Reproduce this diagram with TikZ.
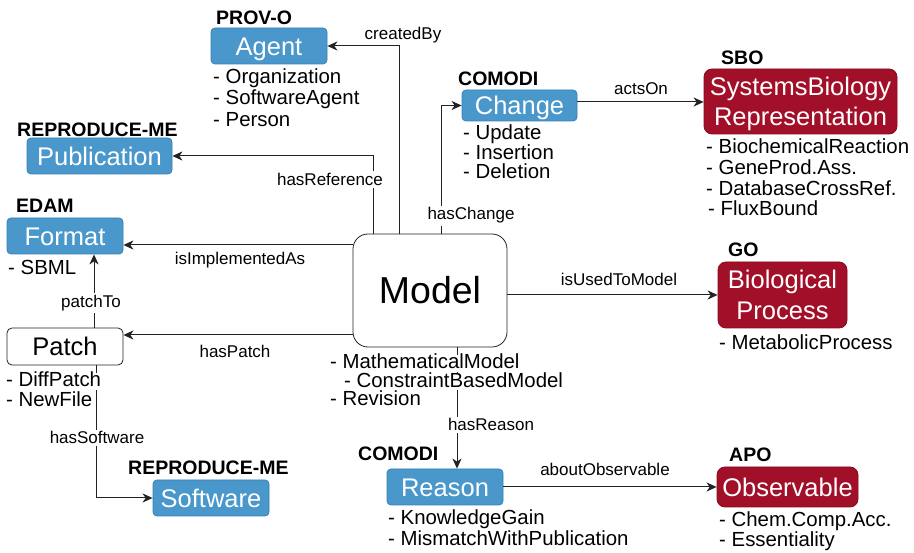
\documentclass[tikz,border=0pt]{standalone}
\usepackage{fontspec}
\setmainfont{Liberation Sans}
\usetikzlibrary{arrows.meta}
\definecolor{bluefill}{RGB}{74,152,203}
\definecolor{bluedraw}{RGB}{55,128,182}
\definecolor{redfill}{RGB}{162,15,40}
\definecolor{reddraw}{RGB}{135,10,30}
\definecolor{linecol}{RGB}{34,34,34}
\newcommand\boxfnt{\fontsize{25.5}{30.5}\selectfont}
\newcommand\modelfnt{\fontsize{37.5}{42}\selectfont}
\newcommand\itemfnt{\fontsize{20.4}{24}\selectfont}
\newcommand\ontofnt{\fontsize{19.5}{23}\selectfont\bfseries}
\newcommand\relfnt{\fontsize{17}{20}\selectfont}
\tikzset{
  basebox/.style={inner sep=0pt, line width=0.8pt, font=\boxfnt},
  bluebox/.style={basebox, draw=bluedraw, fill=bluefill, text=white, rounded corners=4pt, text height=18.3pt, text depth=0pt},
  redbox/.style={basebox, draw=reddraw, fill=redfill, text=white, rounded corners=8pt},
  redone/.style={redbox, text height=18.3pt, text depth=0pt},
  redtwo/.style={redbox, align=center, text depth=0pt},
  patchbox/.style={basebox, draw=linecol, fill=white, text=black, rounded corners=5pt, text height=18.3pt, text depth=0pt},
  modelbox/.style={inner sep=0pt, line width=0.8pt, draw=linecol, fill=white, rounded corners=15pt, font=\modelfnt, text height=26.9pt, text depth=0pt},
  onto/.style={font=\ontofnt, anchor=base west, inner sep=0pt},
  itm/.style={font=\itemfnt, anchor=base west, inner xsep=0pt, inner ysep=0pt, fill=white, text height=14pt, text depth=3pt},
  rel/.style={font=\relfnt, anchor=base, inner sep=0pt},
  relw/.style={rel, fill=white, inner xsep=1pt, inner ysep=2pt},
  conn/.style={draw=linecol, line width=1pt, -{Stealth[length=10pt,width=9pt,inset=3pt]}},
}
\begin{document}
\begin{tikzpicture}[x=1pt, y=-1pt]
\useasboundingbox (0,0) rectangle (914,553);
% boxes
\node[bluebox, minimum width=116pt, minimum height=36pt] (agent) at (269,46) {Agent};
\node[bluebox, minimum width=145pt, minimum height=36pt] (pub) at (99.5,156) {Publication};
\node[bluebox, minimum width=116pt, minimum height=36pt] (format) at (65,236) {Format};
\node[patchbox, minimum width=116pt, minimum height=37pt] (patch) at (65,346.5) {Patch};
\node[bluebox, minimum width=116pt, minimum height=36pt] (software) at (211,498) {Software};
\node[modelbox, minimum width=154pt, minimum height=113pt] (model) at (430,290.5) {Model};
\node[bluebox, minimum width=115pt, minimum height=31pt] (change) at (519.5,105.5) {Change};
\node[redtwo, minimum width=193pt, minimum height=65pt] (sbr) at (800.5,101.5) {SystemsBiology\\Representation};
\node[redtwo, minimum width=129pt, minimum height=66pt] (bio) at (782.5,295) {Biological\\Process};
\node[redone, minimum width=141pt, minimum height=40pt] (obs) at (787.5,487) {Observable};
\node[bluebox, minimum width=116pt, minimum height=36pt] (reason) at (445,487) {Reason};
% ontology labels
\node[onto] (oProv) at (216,24.3) {PROV-O};
\node[onto] (oRep1) at (17,137) {REPRODUCE-ME};
\node[onto] (oEdam) at (16,212.3) {EDAM};
\node[onto] (oRep2) at (128,474.3) {REPRODUCE-ME};
\node[onto] (oCom1) at (458,85.7) {COMODI};
\node[onto] (oSbo) at (721,65) {SBO};
\node[onto] (oGo) at (728,256.7) {GO};
\node[onto] (oCom2) at (358,461) {COMODI};
\node[onto] (oApo) at (729,461.7) {APO};
% connectors
\coordinate (mRef) at ([xshift=-57pt]model.north);
\coordinate (mCre) at ([xshift=-31pt]model.north);
\coordinate (mChg) at ([xshift=11pt]model.north);
\coordinate (mRea) at ([xshift=27pt]model.south);
\coordinate (fImp) at ([yshift=-9pt]format.east);
\coordinate (pHas) at ([yshift=11.5pt]patch.east);
\coordinate (pTo) at ([xshift=29pt]patch.north);
\coordinate (pSw) at ([xshift=31pt]patch.south);
\coordinate (cAct) at ([yshift=3.5pt]change.east);
\draw[conn] (mCre) |- (agent.east);
\draw[conn] (mRef) |- (pub.east);
\draw[conn] (mChg) |- (change.west);
\draw[conn] (fImp -| model.west) -- (fImp);
\draw[conn] (pHas -| model.west) -- (pHas);
\draw[conn] (pTo) -- (pTo |- format.south);
\draw[conn] (pSw) |- (software.west);
\draw[conn] (model.east |- bio.west) -- (bio.west);
\draw[conn] (cAct) -- (cAct -| sbr.west);
\draw[conn] (mRea) -- (mRea |- reason.north);
\draw[conn] (reason.east) -- (obs.west);
% relation labels
\node[rel] (lCre) at (403,40) {createdBy};
\node[relw] (lRef) at (330,185.7) {hasReference};
\node[rel] (lImp) at (240,265) {isImplementedAs};
\node[relw] (lChg) at (471,220) {hasChange};
\node[rel] (lAct) at (641,95) {actsOn};
\node[relw] (lTo) at (91,307.3) {patchTo};
\node[rel] (lPat) at (235,357.3) {hasPatch};
\node[relw] (lSw) at (97,444) {hasSoftware};
\node[rel] (lUse) at (619,285.7) {isUsedToModel};
\node[relw] (lRea) at (491,431) {hasReason};
\node[rel] (lObs) at (605,476) {aboutObservable};
% item lists
\node[itm] (a1) at (213,83.5) {- Organization};
\node[itm] (a2) at (213,105) {- SoftwareAgent};
\node[itm] (a3) at (213,126.5) {- Person};
\node[itm] (c1) at (463,140) {- Update};
\node[itm] (c2) at (463,159.5) {- Insertion};
\node[itm] (c3) at (463,179) {- Deletion};
\node[itm] (s1) at (706,154) {- BiochemicalReaction};
\node[itm] (s2) at (706,175) {- GeneProd.Ass.};
\node[itm] (s3) at (706,196) {- DatabaseCrossRef.};
\node[itm] (s4) at (708,215.5) {- FluxBound};
\node[itm] (f1) at (8,275) {- SBML};
\node[itm] (p1) at (6,387) {- DiffPatch};
\node[itm] (p2) at (6,406.7) {- NewFile};
\node[itm] (m1) at (330,368.8) {- MathematicalModel};
\node[itm] (m2) at (344,387.5) {- ConstraintBasedModel};
\node[itm] (m3) at (330,406) {- Revision};
\node[itm] (b1) at (719,350) {- MetabolicProcess};
\node[itm] (r1) at (388,525) {- KnowledgeGain};
\node[itm] (r2) at (388,545) {- MismatchWithPublication};
\node[itm] (o1) at (719,526) {- Chem.Comp.Acc.};
\node[itm] (o2) at (719,546) {- Essentiality};
\end{tikzpicture}
\end{document}
